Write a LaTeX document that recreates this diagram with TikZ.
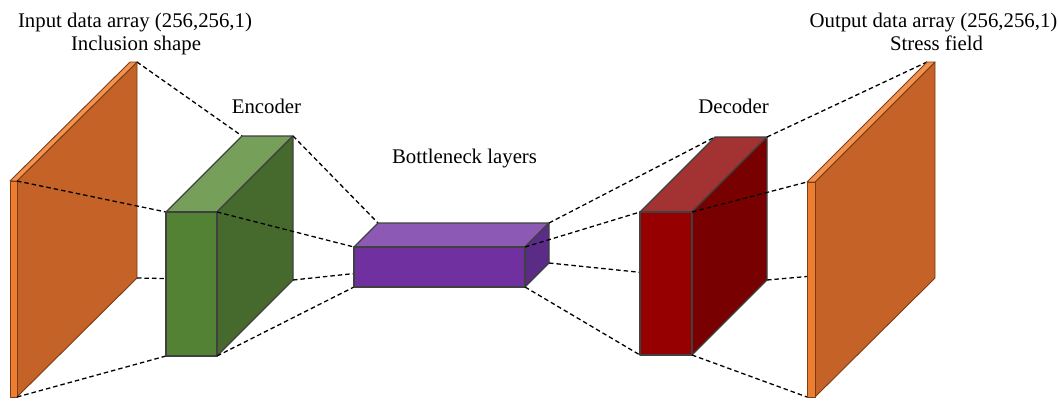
\documentclass[tikz,border=0pt]{standalone}
\usepackage{fontspec}
\setmainfont{Liberation Serif}
% face colours
\definecolor{plateside}{HTML}{C46228}
\definecolor{platefront}{HTML}{ED7D31}
\definecolor{platetop}{HTML}{F29150}
\definecolor{plateline}{HTML}{7A3C14}
\definecolor{encfront}{HTML}{548235}
\definecolor{enctop}{HTML}{76A05A}
\definecolor{encside}{HTML}{466A2E}
\definecolor{bnfront}{HTML}{7030A0}
\definecolor{bntop}{HTML}{8C5AB4}
\definecolor{bnside}{HTML}{5B2C87}
\definecolor{decfront}{HTML}{960000}
\definecolor{dectop}{HTML}{A33232}
\definecolor{decside}{HTML}{780000}
\definecolor{edgegray}{HTML}{404040}
\begin{document}
\begin{tikzpicture}[x=1pt,y=-1pt,
  boxedge/.style={draw=edgegray, line width=1.1pt, line join=round},
  plateedge/.style={draw=plateline, line width=0.9pt, line join=round},
  link/.style={draw=black, line width=1.3pt, dash pattern=on 4.5pt off 3pt},
  lbl/.style={font=\fontsize{20.8}{25}\selectfont, inner sep=0pt, anchor=base, text=black}]
\useasboundingbox (0,0) rectangle (1058,400);

% ---- corner coordinates (F = front, B = back; T/B = top/bottom; L/R = left/right)
% input plate
\coordinate (inFTL) at (10,181);  \coordinate (inFTR) at (17,181);
\coordinate (inFBL) at (10,397);  \coordinate (inFBR) at (17,397);
\coordinate (inBTL) at (130,62);  \coordinate (inBTR) at (137,62);
\coordinate (inBBR) at (137,278);
% encoder block
\coordinate (encFTL) at (166,212); \coordinate (encFTR) at (217,212);
\coordinate (encFBL) at (166,356); \coordinate (encFBR) at (217,356);
\coordinate (encBTL) at (242,136); \coordinate (encBTR) at (293,136);
\coordinate (encBBL) at (242,280); \coordinate (encBBR) at (293,280);
% bottleneck block
\coordinate (bnFTL) at (354,247); \coordinate (bnFTR) at (525,247);
\coordinate (bnFBL) at (354,287); \coordinate (bnFBR) at (525,287);
\coordinate (bnBTL) at (378,223); \coordinate (bnBTR) at (549,223);
\coordinate (bnBBL) at (378,271); \coordinate (bnBBR) at (549,263);
% decoder block
\coordinate (decFTL) at (640,212); \coordinate (decFTR) at (692,212);
\coordinate (decFBL) at (640,355); \coordinate (decFBR) at (692,355);
\coordinate (decBTL) at (715,137); \coordinate (decBTR) at (767,137);
\coordinate (decBBL) at (715,280); \coordinate (decBBR) at (767,280);
% output plate
\coordinate (outFTL) at (807,182); \coordinate (outFTR) at (815,182);
\coordinate (outFBL) at (807,397); \coordinate (outFBR) at (815,397);
\coordinate (outBTL) at (927,62);  \coordinate (outBTR) at (935,62);
\coordinate (outBBR) at (935,278); \coordinate (outBBL) at (927,266);

% ---- input plate
\filldraw[plateedge, fill=plateside] (inFTR) -- (inBTR) -- (inBBR) -- (inFBR) -- cycle;
\filldraw[plateedge, fill=platetop] (inFTL) -- (inBTL) -- (inBTR) -- (inFTR) -- cycle;
\filldraw[plateedge, fill=platefront] (inFTL) rectangle (inFBR);

% input -> encoder
\draw[link] (inBTR) -- (encBTL);
\draw[link] (inFTR) -- (encFTL);
\draw[link] (inBBR) -- (encBBL);
\draw[link] (inFBR) -- (encFBL);

% ---- encoder
\filldraw[boxedge, fill=enctop] (encFTL) -- (encBTL) -- (encBTR) -- (encFTR) -- cycle;
\filldraw[boxedge, fill=encside] (encFTR) -- (encBTR) -- (encBBR) -- (encFBR) -- cycle;
\filldraw[boxedge, fill=encfront] (encFTL) rectangle (encFBR);

% encoder -> bottleneck
\draw[link] (encBTR) -- (bnBTL);
\draw[link] (encFTR) -- (bnFTL);
\draw[link] (encBBR) -- (bnBBL);
\draw[link] (encFBR) -- (bnFBL);

% ---- bottleneck
\filldraw[boxedge, fill=bntop] (bnFTL) -- (bnBTL) -- (bnBTR) -- (bnFTR) -- cycle;
\filldraw[boxedge, fill=bnside] (bnFTR) -- (bnBTR) -- (bnBBR) -- (bnFBR) -- cycle;
\filldraw[boxedge, fill=bnfront] (bnFTL) rectangle (bnFBR);

% bottleneck -> decoder
\draw[link] (bnBTR) -- (decBTL);
\draw[link] (bnFTR) -- (decFTL);
\draw[link] (bnBBR) -- (decBBL);
\draw[link] (bnFBR) -- (decFBL);

% ---- decoder
\filldraw[boxedge, fill=dectop] (decFTL) -- (decBTL) -- (decBTR) -- (decFTR) -- cycle;
\filldraw[boxedge, fill=decside] (decFTR) -- (decBTR) -- (decBBR) -- (decFBR) -- cycle;
\filldraw[boxedge, fill=decfront] (decFTL) rectangle (decFBR);

% decoder -> output
\draw[link] (decBTR) -- (outBTL);
\draw[link] (decFTR) -- (outFTL);
\draw[link] (decBBR) -- (outBBL);
\draw[link] (decFBR) -- (outFBL);

% ---- output plate
\filldraw[plateedge, fill=plateside] (outFTR) -- (outBTR) -- (outBBR) -- (outFBR) -- cycle;
\filldraw[plateedge, fill=platetop] (outFTL) -- (outBTL) -- (outBTR) -- (outFTR) -- cycle;
\filldraw[plateedge, fill=platefront] (outFTL) rectangle (outFBR);

% ---- labels
\node[lbl] (inTitle)  at (135,27)   {Input data array (256,256,1)};
\node[lbl] (inSub)    at (136,50)   {Inclusion shape};
\node[lbl] (encLbl)   at (266.5,113) {Encoder};
\node[lbl] (bnLbl)    at (464.5,163) {Bottleneck layers};
\node[lbl] (decLbl)   at (733.5,113) {Decoder};
\node[lbl] (outTitle) at (933.5,27) {Output data array (256,256,1)};
\node[lbl] (outSub)   at (936.5,50) {Stress field};
\end{tikzpicture}
\end{document}
